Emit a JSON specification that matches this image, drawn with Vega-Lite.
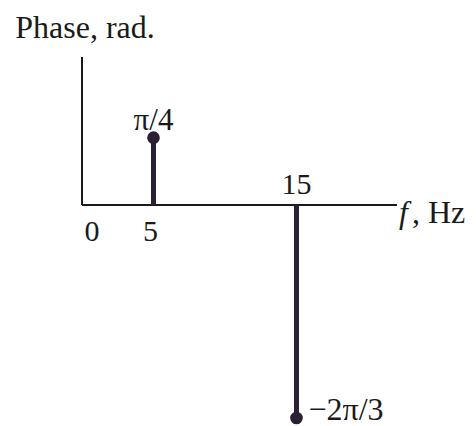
{
  "$schema": "https://vega.github.io/schema/vega-lite/v6.json",
  "autosize": "none",
  "width": 315,
  "height": 363,
  "padding": {"left": 82, "top": 57, "right": 79, "bottom": 6},
  "background": "#ffffff",
  "config": {"view": {"stroke": null}, "text": {"font": "Liberation Serif", "fontSize": 30, "color": "#1a1a1a"}},
  "datasets": {
    "axes": [
      {"x": 0, "x2": 22.03, "y": 0, "y2": 0},
      {"x": 0, "x2": 0, "y": 0, "y2": 1.536}
    ],
    "spectrum": [
      {"f": 5, "base": 0, "phase": 0.7854, "label": "π/4"},
      {"f": 15, "base": 0, "phase": -2.0944, "label": "−2π/3"}
    ],
    "ticks": [
      {"f": 0, "phase": 0, "label": "0", "side": "origin"},
      {"f": 5, "phase": 0, "label": "5", "side": "below"},
      {"f": 15, "phase": 0, "label": "15", "side": "above"}
    ],
    "titles": [
      {"axis": "x", "f": 22.03, "phase": 0, "symbol": "f", "unit": ", Hz"},
      {"axis": "y", "f": 0, "phase": 1.536, "symbol": "Phase", "unit": "Phase, rad."}
    ]
  },
  "layer": [
    {
      "data": {"name": "axes"},
      "mark": {"type": "rule", "color": "#1a1a1a", "strokeWidth": 2},
      "encoding": {
        "x": {"field": "x", "type": "quantitative", "scale": {"domain": [0, 22.03], "nice": false, "zero": false}, "axis": null},
        "x2": {"field": "x2"},
        "y": {"field": "y", "type": "quantitative", "scale": {"type": "pow", "exponent": 1.175, "domain": [-2.111, 1.536], "nice": false, "zero": false}, "axis": null},
        "y2": {"field": "y2"}
      }
    },
    {
      "data": {"name": "spectrum"},
      "mark": {"type": "rule", "color": "#2b1f33", "strokeWidth": 5},
      "encoding": {
        "x": {"field": "f", "type": "quantitative", "axis": null},
        "y": {"field": "base", "type": "quantitative", "axis": null},
        "y2": {"field": "phase"}
      }
    },
    {
      "data": {"name": "spectrum"},
      "mark": {"type": "point", "filled": true, "opacity": 1, "color": "#2b1f33", "size": 160},
      "encoding": {
        "x": {"field": "f", "type": "quantitative", "axis": null},
        "y": {"field": "phase", "type": "quantitative", "axis": null}
      }
    },
    {
      "data": {"name": "spectrum"},
      "transform": [{"filter": "datum.phase > 0"}],
      "mark": {"type": "text", "baseline": "alphabetic", "align": "center", "dy": -8, "fontSize": 31},
      "encoding": {
        "x": {"field": "f", "type": "quantitative", "axis": null},
        "y": {"field": "phase", "type": "quantitative", "axis": null},
        "text": {"field": "label", "type": "nominal"}
      }
    },
    {
      "data": {"name": "spectrum"},
      "transform": [{"filter": "datum.phase < 0"}],
      "mark": {"type": "text", "baseline": "middle", "align": "left", "dx": 12, "dy": -8, "fontSize": 32},
      "encoding": {
        "x": {"field": "f", "type": "quantitative", "axis": null},
        "y": {"field": "phase", "type": "quantitative", "axis": null},
        "text": {"field": "label", "type": "nominal"}
      }
    },
    {
      "data": {"name": "ticks"},
      "transform": [{"filter": "datum.side == 'origin'"}],
      "mark": {"type": "text", "baseline": "middle", "align": "center", "dx": 10, "dy": 27},
      "encoding": {
        "x": {"field": "f", "type": "quantitative", "axis": null},
        "y": {"field": "phase", "type": "quantitative", "axis": null},
        "text": {"field": "label", "type": "nominal"}
      }
    },
    {
      "data": {"name": "ticks"},
      "transform": [{"filter": "datum.side == 'below'"}],
      "mark": {"type": "text", "baseline": "middle", "align": "center", "dx": -3, "dy": 27},
      "encoding": {
        "x": {"field": "f", "type": "quantitative", "axis": null},
        "y": {"field": "phase", "type": "quantitative", "axis": null},
        "text": {"field": "label", "type": "nominal"}
      }
    },
    {
      "data": {"name": "ticks"},
      "transform": [{"filter": "datum.side == 'above'"}],
      "mark": {"type": "text", "baseline": "middle", "align": "center", "dy": -20},
      "encoding": {
        "x": {"field": "f", "type": "quantitative", "axis": null},
        "y": {"field": "phase", "type": "quantitative", "axis": null},
        "text": {"field": "label", "type": "nominal"}
      }
    },
    {
      "data": {"name": "titles"},
      "transform": [{"filter": "datum.axis == 'x'"}],
      "mark": {"type": "text", "align": "left", "baseline": "middle", "fontStyle": "italic", "fontSize": 32, "dx": 2, "dy": 8},
      "encoding": {
        "x": {"field": "f", "type": "quantitative", "axis": null},
        "y": {"field": "phase", "type": "quantitative", "axis": null},
        "text": {"field": "symbol", "type": "nominal"}
      }
    },
    {
      "data": {"name": "titles"},
      "transform": [{"filter": "datum.axis == 'x'"}],
      "mark": {"type": "text", "align": "left", "baseline": "middle", "fontSize": 32, "dx": 15, "dy": 8},
      "encoding": {
        "x": {"field": "f", "type": "quantitative", "axis": null},
        "y": {"field": "phase", "type": "quantitative", "axis": null},
        "text": {"field": "unit", "type": "nominal"}
      }
    },
    {
      "data": {"name": "titles"},
      "transform": [{"filter": "datum.axis == 'y'"}],
      "mark": {"type": "text", "align": "center", "baseline": "middle", "fontSize": 32, "dx": 3, "dy": -29},
      "encoding": {
        "x": {"field": "f", "type": "quantitative", "axis": null},
        "y": {"field": "phase", "type": "quantitative", "axis": null},
        "text": {"field": "unit", "type": "nominal"}
      }
    }
  ]
}
